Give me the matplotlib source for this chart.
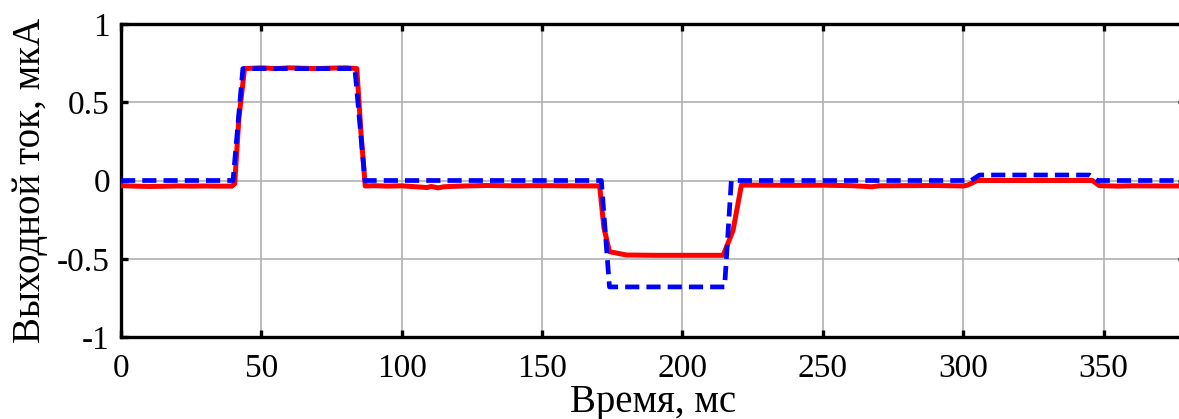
import matplotlib
matplotlib.use('Agg')
import matplotlib.pyplot as plt

plt.rcParams['font.family'] = ['Liberation Serif', 'DejaVu Serif']

# measured output (red)
red_t = [0, 5, 10, 15, 20, 25, 30, 35, 39.5, 40.5, 42, 44, 50, 55, 60, 65, 70, 75, 80,
         84, 85.5, 87, 90, 95, 100, 105, 109, 110.5, 113, 115, 120, 125, 130, 140, 150,
         160, 170.5, 172, 174, 180, 190, 200, 210, 214.5, 218, 221, 230, 240, 250, 260,
         267.5, 270, 280, 290, 300, 301.5, 305, 320, 340, 346, 348.5, 355, 360, 370, 379]
red_i = [-0.033, -0.036, -0.038, -0.037, -0.035, -0.036, -0.035, -0.036, -0.036, -0.02, 0.4, 0.715,
         0.72, 0.715, 0.72, 0.717, 0.715, 0.718, 0.72,
         0.715, 0.3, -0.035, -0.033, -0.036, -0.034, -0.04, -0.045, -0.038, -0.047, -0.04,
         -0.036, -0.034, -0.032, -0.034, -0.033,
         -0.034, -0.035, -0.3, -0.455, -0.476, -0.478, -0.478, -0.478, -0.478, -0.32, -0.029,
         -0.03, -0.031, -0.03, -0.033,
         -0.04, -0.034, -0.033, -0.032, -0.035, -0.03, 0.0, 0.0, 0.0, 0.0, -0.033, -0.036,
         -0.034, -0.035, -0.035]

# model output (blue, dashed)
blue_t = [0, 39.9, 43.4, 83.3, 86.9, 171.1, 174, 215, 217.4, 302.8, 305.8, 345, 347.8, 379]
blue_i = [0, 0, 0.715, 0.715, 0, 0, -0.68, -0.68, 0, 0, 0.035, 0.035, 0, 0]

xticks = [0, 50, 100, 150, 200, 250, 300, 350]
yticks = [-1, -0.5, 0, 0.5, 1]
yticklabels = ['-1', '-0.5', '0', '0.5', '1']

fig = plt.figure(figsize=(11.79, 4.19), dpi=100)
ax = fig.add_axes([121 / 1179, 1 - 337 / 419, 1064 / 1179, 313 / 419])

ax.plot(red_t, red_i, color='#ff0000', lw=3.6, solid_joinstyle='round', zorder=3)
ax.plot(blue_t, blue_i, color='#0000ff', lw=3.4, linestyle='--', dashes=(3.0, 1.5),
        dash_joinstyle='round', zorder=4)

ax.set_xlim(0, 379)
ax.set_ylim(-1, 1)
ax.set_xticks(xticks)
ax.set_yticks(yticks)
ax.set_yticklabels(yticklabels)
ax.grid(True, color='#b0b0b0', lw=1.2)
ax.set_axisbelow(True)

for s in ax.spines.values():
    s.set_linewidth(2.4)
ax.tick_params(direction='in', length=5, width=2.4, top=True, right=True,
               labelsize=24)
ax.tick_params(axis='x', pad=12)
ax.tick_params(axis='y', pad=8)

ax.set_xlabel('Время, мс', fontsize=28, labelpad=0)
ax.set_ylabel('Выходной ток, мкА', fontsize=28, labelpad=6)

fig.savefig('out.png', dpi=100)
